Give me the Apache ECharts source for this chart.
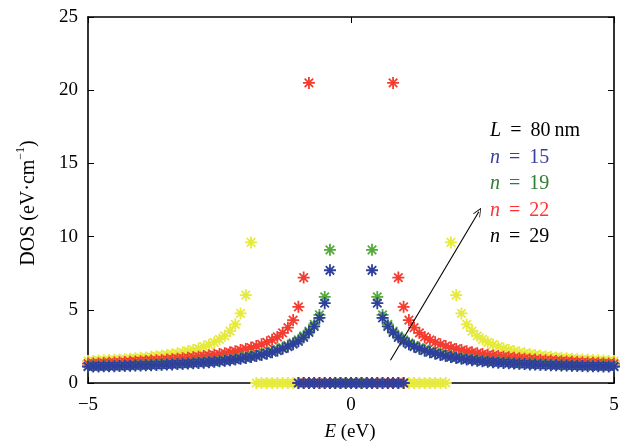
<!DOCTYPE html>
<html>
<head>
<meta charset="utf-8">
<script src="https://cdn.jsdelivr.net/npm/echarts@6/dist/echarts.min.js"></script>
<style>
html,body{margin:0;padding:0;background:#fff;}
#chart{width:626px;height:444px;}
</style>
</head>
<body>
<div id="chart"></div>
<script>
// ---- data (E grid step 0.1 eV, symmetric about E = 0) ----
const STEP = 0.1;
const xTicks = [-5, 0, 5];
const yTicks = [0, 5, 10, 15, 20, 25];

// n = 15 (blue): DOS for E = 0.4 ... 5.0
const blueStartE = 0.4;
const blueDOS = [7.7, 5.45, 4.45, 3.87, 3.45, 3.12, 2.85, 2.65, 2.48, 2.34, 2.21, 2.1, 2.0, 1.92, 1.84, 1.77, 1.71, 1.65, 1.6, 1.56, 1.52, 1.48, 1.45, 1.42, 1.39, 1.37, 1.35, 1.33, 1.31, 1.29, 1.27, 1.26, 1.24, 1.23, 1.22, 1.21, 1.2, 1.19, 1.18, 1.17, 1.16, 1.15, 1.15, 1.14, 1.13, 1.13, 1.12];
const blueZeroMax = 1.0;

// n = 19 (green): DOS for E = 0.4 ... 5.0
const greenStartE = 0.4;
const greenDOS = [9.1, 5.88, 4.65, 4.0, 3.55, 3.22, 2.95, 2.74, 2.57, 2.42, 2.29, 2.17, 2.07, 1.98, 1.9, 1.83, 1.76, 1.7, 1.65, 1.6, 1.56, 1.52, 1.49, 1.46, 1.43, 1.4, 1.38, 1.36, 1.34, 1.32, 1.3, 1.29, 1.27, 1.26, 1.25, 1.24, 1.23, 1.22, 1.21, 1.2, 1.19, 1.18, 1.18, 1.17, 1.16, 1.16, 1.15];
const greenZeroMax = 0.3;

// n = 22 (red): DOS for E = 0.8 ... 5.0
const redStartE = 0.8;
const redDOS = [20.5, 7.2, 5.2, 4.3, 3.78, 3.42, 3.15, 2.95, 2.78, 2.64, 2.52, 2.42, 2.33, 2.25, 2.17, 2.1, 2.04, 1.98, 1.93, 1.88, 1.84, 1.8, 1.76, 1.72, 1.69, 1.66, 1.63, 1.6, 1.57, 1.55, 1.53, 1.51, 1.49, 1.47, 1.45, 1.43, 1.41, 1.4, 1.38, 1.37, 1.35, 1.34, 1.33];
const redZeroMax = 1.0;

// n = 29 (yellow): DOS for E = 1.9 ... 5.0
const yellowStartE = 1.9;
const yellowDOS = [9.6, 6.0, 4.75, 4.0, 3.55, 3.22, 2.98, 2.78, 2.62, 2.48, 2.36, 2.26, 2.17, 2.1, 2.03, 1.97, 1.92, 1.87, 1.83, 1.79, 1.75, 1.72, 1.69, 1.66, 1.63, 1.61, 1.59, 1.57, 1.55, 1.53, 1.51, 1.5];
const yellowZeroMax = 1.8;

const legendLines = ['L = 80\u2009nm', 'n = 15', 'n = 19', 'n = 22', 'n = 29'];
const arrowFrom = [0.75, 1.55];
const arrowTo = [2.43, 11.7];

// ---- build point lists ----
function buildPoints(startE, dos, zeroMax) {
  const pts = [];
  const nz = Math.round(zeroMax / STEP);
  for (let k = -nz; k <= nz; k++) pts.push([+(k * STEP).toFixed(1), 0]);
  dos.forEach((v, i) => {
    const e = +(startE + i * STEP).toFixed(1);
    pts.push([-e, v]);
    pts.push([e, v]);
  });
  return pts;
}

const STAR = 'path://M0,8.5 L20,8.5 L20,11.5 L0,11.5 Z M8.5,0 L11.5,0 L11.5,20 L8.5,20 Z M4.0,1.9 L18.1,16.0 L16.0,18.1 L1.9,4.0 Z M1.9,16.0 L16.0,1.9 L18.1,4.0 L4.0,18.1 Z';

const COLORS = { blue: '#2e3f9c', green: '#55aa3c', red: '#f43c30', yellow: '#e6ea3a' };
const SERIF = '"Liberation Serif", "DejaVu Serif", serif';

function scatter(name, color, data, z) {
  return {
    name, type: 'scatter', data, z,
    symbol: STAR, symbolSize: 12,
    itemStyle: { color, opacity: 1 },
    silent: true
  };
}

const chart = echarts.init(document.getElementById('chart'), null, { renderer: 'canvas' });

const axisCommon = {
  axisLine: { show: true, onZero: false, lineStyle: { color: '#000', width: 1.6 } },
  axisTick: { show: true, inside: true, length: 6, lineStyle: { color: '#000', width: 1 } },
  splitLine: { show: false }
};

const yellowSeries = scatter('n = 29', COLORS.yellow, buildPoints(yellowStartE, yellowDOS, yellowZeroMax), 2);
const redSeries = scatter('n = 22', COLORS.red, buildPoints(redStartE, redDOS, redZeroMax), 3);
const greenSeries = scatter('n = 19', COLORS.green, buildPoints(greenStartE, greenDOS, greenZeroMax), 4);
const blueSeries = scatter('n = 15', COLORS.blue, buildPoints(blueStartE, blueDOS, blueZeroMax), 5);

blueSeries.markLine = {
  silent: true,
  animation: false,
  symbol: ['none', 'path://M0,10 L5,0 L10,10 L9,10 L5,2 L1,10 Z'],
  symbolSize: [8, 9],
  lineStyle: { color: '#000', width: 1.1, type: 'solid' },
  label: { show: false },
  data: [[{ coord: arrowFrom }, { coord: arrowTo }]]
};

const legendColors = ['#000', '#3a3f9e', '#2e7d32', '#ff3333', '#000'];
const legendGraphics = legendLines.map((t, i) => {
  const parts = t.split(' ');
  return {
    type: 'text',
    left: 490,
    top: 121 + i * 26.5,
    style: {
      text: '{i|' + parts[0] + '}{r| \u2009' + parts.slice(1).join(' \u2009') + '}',
      rich: {
        i: { fontFamily: SERIF, fontStyle: 'italic', fontSize: 20, fill: legendColors[i] },
        r: { fontFamily: SERIF, fontSize: 20, fill: legendColors[i] }
      }
    },
    z: 10
  };
});

const option = {
  animation: false,
  backgroundColor: '#fff',
  grid: { left: 88, right: 12, top: 17, bottom: 61, containLabel: false },
  xAxis: [
    Object.assign({}, axisCommon, {
      type: 'value', min: xTicks[0], max: xTicks[xTicks.length - 1], interval: 5,
      position: 'bottom',
      axisLabel: {
        show: true, margin: 13, color: '#000', fontFamily: SERIF, fontSize: 19,
        formatter: v => (v < 0 ? '\u2212' + Math.abs(v) : String(v))
      }
    }),
    Object.assign({}, axisCommon, {
      type: 'value', min: xTicks[0], max: xTicks[xTicks.length - 1], interval: 5,
      position: 'top', axisLabel: { show: false }
    })
  ],
  yAxis: [
    Object.assign({}, axisCommon, {
      type: 'value', min: yTicks[0], max: yTicks[yTicks.length - 1], interval: 5,
      position: 'left',
      axisLabel: { show: true, margin: 10, color: '#000', fontFamily: SERIF, fontSize: 19 }
    }),
    Object.assign({}, axisCommon, {
      type: 'value', min: yTicks[0], max: yTicks[yTicks.length - 1], interval: 5,
      position: 'right', axisLabel: { show: false }
    })
  ],
  series: [yellowSeries, redSeries, greenSeries, blueSeries],
  graphic: [
    {
      type: 'text',
      x: 27, y: 203,
      rotation: Math.PI / 2,
      style: {
        text: '{n|DOS (eV\u00b7cm}{s|\u22121}{n|)}',
        align: 'center', verticalAlign: 'middle',
        rich: {
          n: { fontFamily: SERIF, fontSize: 20, fill: '#000', lineHeight: 24, verticalAlign: 'bottom' },
          s: { fontFamily: SERIF, fontSize: 12, fill: '#000', lineHeight: 24, verticalAlign: 'top' }
        }
      }
    },
    {
      type: 'text',
      x: 350, y: 432,
      style: {
        text: '{i|E}{r| (eV)}',
        align: 'center', verticalAlign: 'middle',
        rich: {
          i: { fontFamily: SERIF, fontStyle: 'italic', fontSize: 19, fill: '#000' },
          r: { fontFamily: SERIF, fontSize: 19, fill: '#000' }
        }
      }
    }
  ].concat(legendGraphics)
};

chart.setOption(option);
</script>
</body>
</html>
